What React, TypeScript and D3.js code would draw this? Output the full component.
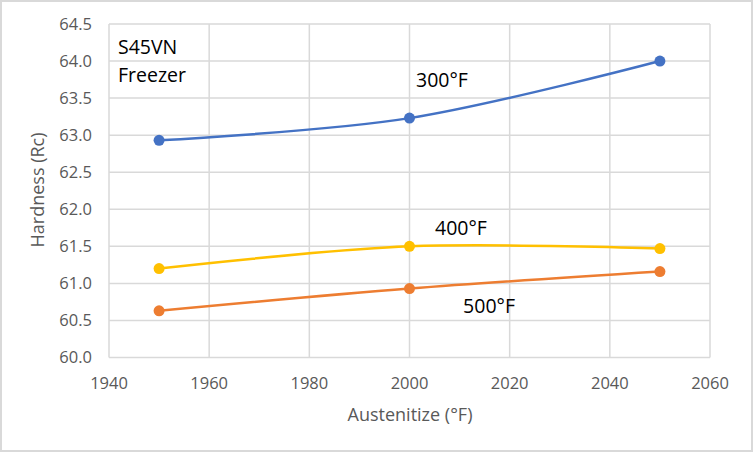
import React from 'react';
import * as d3 from 'd3';

// Austenitize temperatures (°F)
const austenitize = [1950, 2000, 2050];
// Hardness (Rc) per temper temperature
const temper300 = [62.93, 63.23, 64.0];
const temper400 = [61.2, 61.5, 61.47];
const temper500 = [60.63, 60.93, 61.16];

const seriesNames = ['300°F', '400°F', '500°F'];
const seriesColors = ['#4472C4', '#FFC000', '#ED7D31'];
const xTicks = [1940, 1960, 1980, 2000, 2020, 2040, 2060];
const yTicks = [60.0, 60.5, 61.0, 61.5, 62.0, 62.5, 63.0, 63.5, 64.0, 64.5];

const W = 753;
const H = 452;
const FONT = "'Open Sans', 'Noto Sans', sans-serif";

const App: React.FC = () => {
  const x = d3.scaleLinear().domain([1940, 2060]).range([109, 710]);
  const y = d3.scaleLinear().domain([60, 64.5]).range([357.5, 24]);

  const line = d3
    .line<[number, number]>()
    .x(d => x(d[0]))
    .y(d => y(d[1]))
    .curve(d3.curveCatmullRom.alpha(0));

  const series = [temper300, temper400, temper500].map((vals, i) => ({
    name: seriesNames[i],
    color: seriesColors[i],
    points: austenitize.map((a, j) => [a, vals[j]] as [number, number]),
  }));

  // series label anchors (data space)
  const labelPos: Record<string, [number, number]> = {
    '300°F': [2001.3, 63.65],
    '400°F': [2005.1, 61.65],
    '500°F': [2010.7, 60.6],
  };

  return (
    <div style={{ position: 'fixed', left: 0, top: 0 }}>
      <svg width={W} height={H} style={{ display: 'block', background: '#fff' }}>
        <rect x={1} y={1} width={W - 2} height={H - 2} fill="#fff" stroke="#D9D9D9" strokeWidth={2} />

        {/* gridlines */}
        {yTicks.map(t => (
          <line key={'gy' + t} x1={x(1940)} x2={x(2060)} y1={y(t)} y2={y(t)} stroke="#D9D9D9" strokeWidth={1.5} />
        ))}
        {xTicks.map(t => (
          <line key={'gx' + t} x1={x(t)} x2={x(t)} y1={y(60)} y2={y(64.5)} stroke="#D9D9D9" strokeWidth={1.5} />
        ))}

        {/* tick labels */}
        {yTicks.map(t => (
          <text key={'ty' + t} x={92} y={y(t)} dy="0.36em" textAnchor="end" fontFamily={FONT} fontSize={16.5} fill="#595959">
            {d3.format('.1f')(t)}
          </text>
        ))}
        {xTicks.map(t => (
          <text key={'tx' + t} x={x(t)} y={389} textAnchor="middle" fontFamily={FONT} fontSize={16.5} fill="#595959">
            {t}
          </text>
        ))}

        {/* axis titles */}
        <text x={410} y={421} textAnchor="middle" fontFamily={FONT} fontSize={18} fill="#595959">
          Austenitize (°F)
        </text>
        <text
          transform={`translate(44, 190) rotate(-90)`}
          textAnchor="middle"
          fontFamily={FONT}
          fontSize={18}
          fill="#595959"
        >
          Hardness (Rc)
        </text>

        {/* series */}
        {series.map(s => (
          <g key={s.name}>
            <path d={line(s.points) || ''} fill="none" stroke={s.color} strokeWidth={2.5} strokeLinecap="round" />
            {s.points.map(p => (
              <circle key={p[0]} cx={x(p[0])} cy={y(p[1])} r={5.5} fill={s.color} />
            ))}
            <text x={x(labelPos[s.name][0])} y={y(labelPos[s.name][1])} fontFamily={FONT} fontSize={19.5} fill="#000">
              {s.name}
            </text>
          </g>
        ))}

        {/* annotation */}
        <text x={118} y={54} fontFamily={FONT} fontSize={19.5} fill="#000">S45VN</text>
        <text x={118} y={82} fontFamily={FONT} fontSize={19.5} fill="#000">Freezer</text>
      </svg>
    </div>
  );
};

export default App;
